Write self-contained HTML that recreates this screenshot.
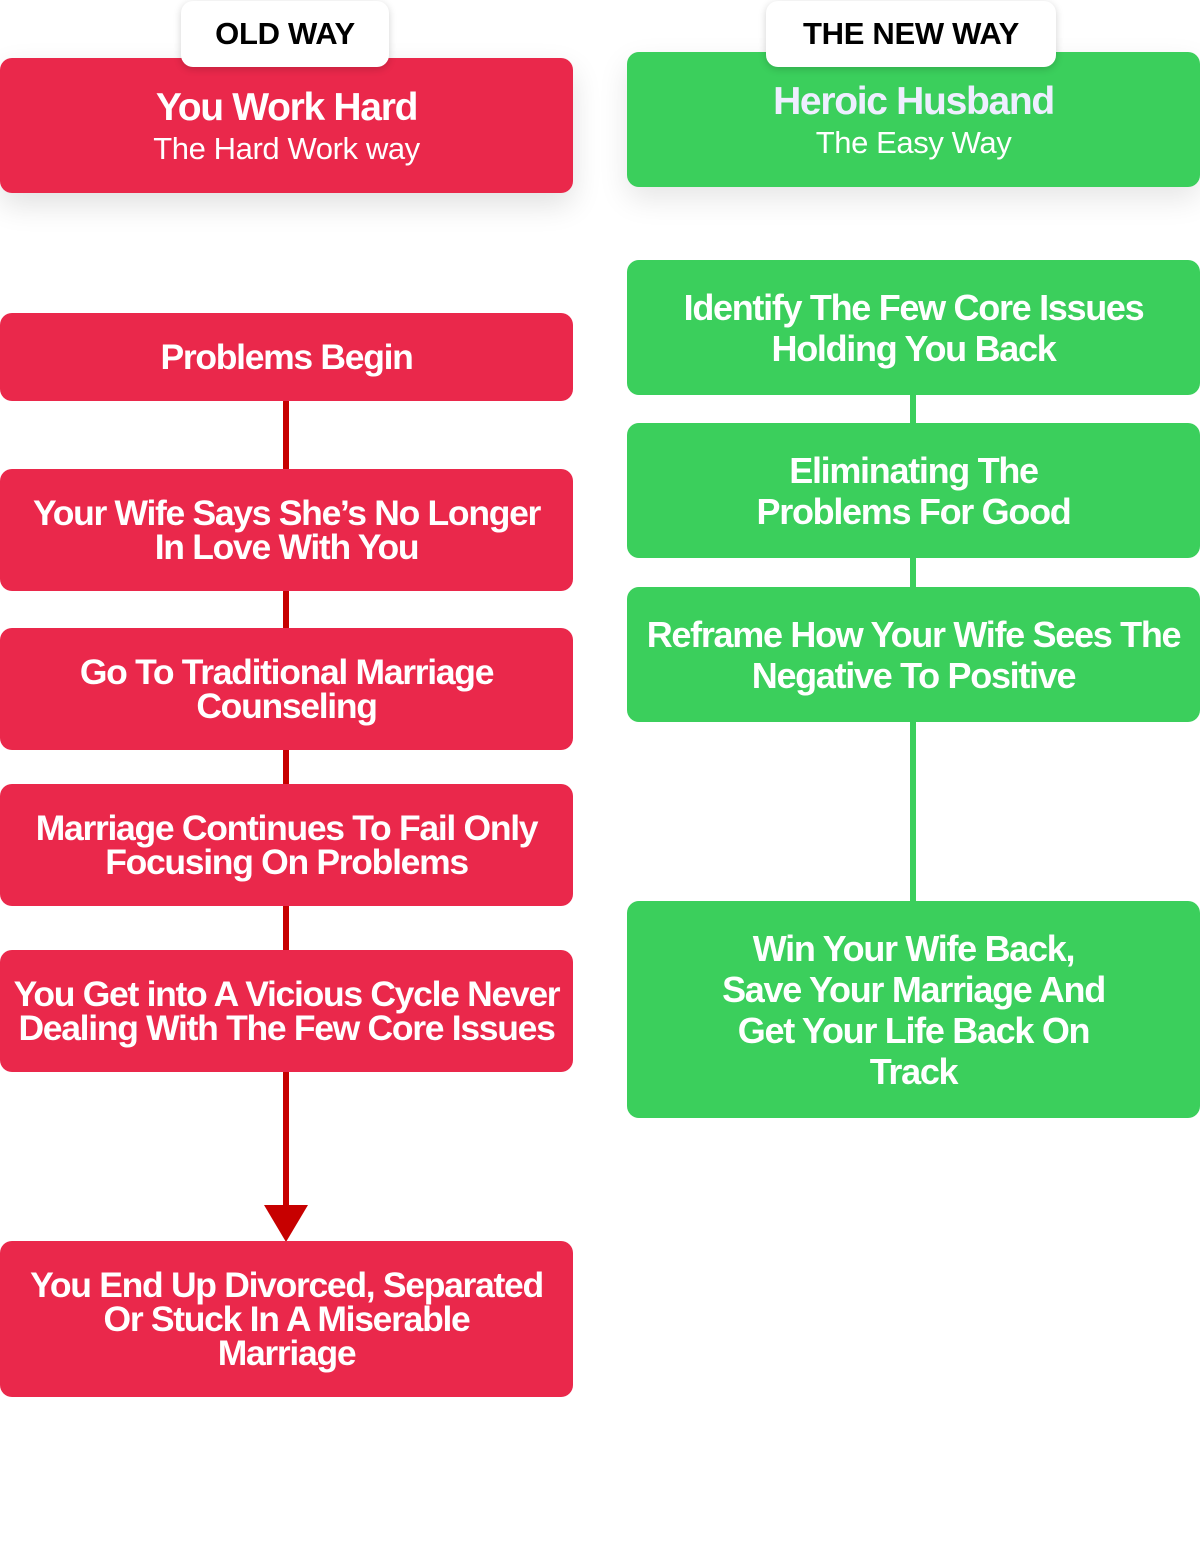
<!DOCTYPE html>
<html><head><style>
body{margin:0;width:1200px;height:1564px;background:#fff;position:relative;overflow:hidden;font-family:"Liberation Sans",sans-serif}
.b{position:absolute;display:flex;flex-direction:column;justify-content:center;align-items:center;text-align:center;color:#fff;font-weight:bold;font-size:35.5px;letter-spacing:-1.3px;border-radius:12px;box-sizing:border-box;white-space:nowrap}
.r{background:#EA284B;left:0;width:573px;line-height:34px}
.g{background:#3BCF5C;left:627px;width:573px;line-height:41px;font-size:36px}
.l{position:absolute;width:6px}
.tab{position:absolute;top:1px;height:66px;background:#fff;border-radius:12px;box-shadow:0 2px 8px rgba(0,0,0,.18);display:flex;align-items:center;justify-content:center;font-weight:bold;font-size:31px;color:#000;letter-spacing:-0.3px}
.sub{font-weight:normal;font-size:31px;letter-spacing:-0.4px}
</style></head><body>
<div class="l" style="left:283px;top:400px;height:810px;background:#C70000"></div>
<svg style="position:absolute;left:264px;top:1205px" width="44" height="37"><polygon points="0,0 44,0 22,37" fill="#C70000"/></svg>
<div class="l" style="left:910px;top:390px;height:515px;background:#3BCF5C"></div>

<div class="b r" style="top:58px;height:135px;box-shadow:0 12px 30px rgba(0,0,0,.12)"><div style="font-size:39px;line-height:42px;margin-top:4px">You Work Hard</div><div class="sub" style="line-height:40px">The Hard Work way</div></div>
<div class="b r" style="top:313px;height:88px">Problems Begin</div>
<div class="b r" style="top:469px;height:122px">Your Wife Says She’s No Longer<br>In Love With You</div>
<div class="b r" style="top:628px;height:122px">Go To Traditional Marriage<br>Counseling</div>
<div class="b r" style="top:784px;height:122px">Marriage Continues To Fail Only<br>Focusing On Problems</div>
<div class="b r" style="top:950px;height:122px">You Get into A Vicious Cycle Never<br>Dealing With The Few Core Issues</div>
<div class="b r" style="top:1241px;height:156px">You End Up Divorced, Separated<br>Or Stuck In A Miserable<br>Marriage</div>

<div class="b g" style="top:52px;height:135px;box-shadow:0 12px 30px rgba(0,0,0,.10)"><div style="font-size:39px;line-height:42px;margin-top:4px;color:#eef">Heroic Husband</div><div class="sub" style="line-height:40px">The Easy Way</div></div>
<div class="b g" style="top:260px;height:135px">Identify The Few Core Issues<br>Holding You Back</div>
<div class="b g" style="top:423px;height:135px">Eliminating The<br>Problems For Good</div>
<div class="b g" style="top:587px;height:135px">Reframe How Your Wife Sees The<br>Negative To Positive</div>
<div class="b g" style="top:901px;height:217px">Win Your Wife Back,<br>Save Your Marriage And<br>Get Your Life Back On<br>Track</div>

<div class="tab" style="left:181px;width:208px">OLD WAY</div>
<div class="tab" style="left:766px;width:290px">THE NEW WAY</div>
</body></html>
